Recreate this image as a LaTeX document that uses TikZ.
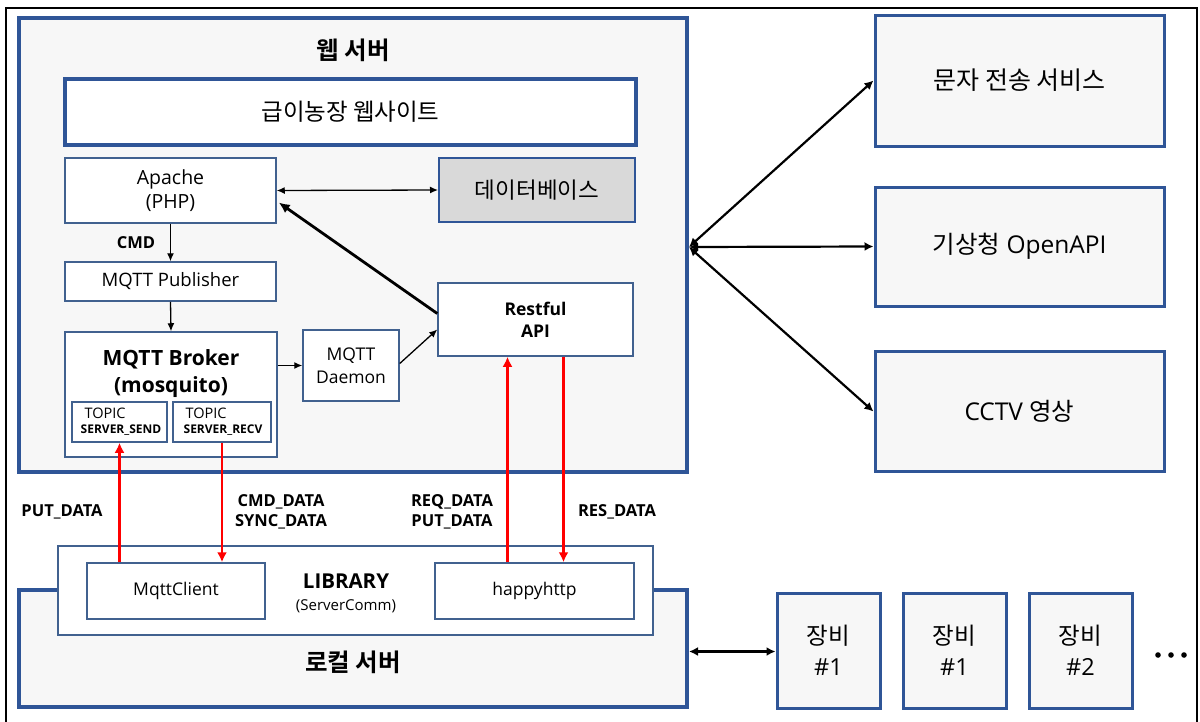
\documentclass[tikz,border=0pt]{standalone}
\usepackage{fontspec}
\setmainfont{Open Sans}
\newfontfamily\ko{Noto Sans CJK KR}[BoldFont={Noto Sans CJK KR Bold}]
\usetikzlibrary{arrows.meta,calc}
\definecolor{frameblue}{HTML}{2F5597}
\definecolor{boxblue}{HTML}{41618F}
\definecolor{panel}{HTML}{F7F7F7}
\definecolor{dbgray}{HTML}{D9D9D9}
\definecolor{linkred}{HTML}{FF0000}
\tikzset{
  sz/.style 2 args={minimum width=#1pt, minimum height=#2pt},
  fs/.style 2 args={font=\fontsize{#1pt}{#2pt}\selectfont},
  fsb/.style 2 args={font=\fontsize{#1pt}{#2pt}\selectfont\bfseries},
  panelbox/.style={draw=frameblue, line width=4pt, fill=panel, inner sep=0pt},
  sitebox/.style={draw=frameblue, line width=4pt, fill=white, inner sep=0pt},
  thinbox/.style={draw=boxblue, line width=1.5pt, fill=white, inner sep=0pt, align=center},
  extbox/.style={draw=frameblue, line width=3pt, fill=panel, inner sep=0pt, align=center},
  lbl/.style={inner sep=0pt, align=center},
  arr/.style={line width=1.3pt, -{Latex[length=8pt,width=7pt]}},
  arrboth/.style={line width=1.3pt, {Latex[length=8pt,width=7pt]}-{Latex[length=8pt,width=7pt]}},
  arrwide/.style={line width=2.2pt, {Latex[length=9pt,width=9pt]}-{Latex[length=9pt,width=9pt]}},
  arrthick/.style={line width=2.8pt, -{Latex[length=11pt,width=10pt]}},
  redarr/.style={draw=linkred, line width=2.5pt, -{Latex[length=10pt,width=10pt]}},
}
\begin{document}
\begin{tikzpicture}[x=1pt,y=-1pt]
  \useasboundingbox (0,0) rectangle (1200,721);
  \fill[white] (0,0) rectangle (1200,721);
  % outer frame (open at the bottom)
  \draw[black, line width=2.5pt] (6,730) -- (6,8) -- (1197,8) -- (1197,730);

  % ---------- web server ----------
  \node[panelbox, sz={668}{454}] (web) at (353,245) {};
  \node[lbl, fsb={24.5}{28}] (webt) at (353,50) {\ko\bfseries 웹 서버};
  \node[sitebox, sz={571}{66}, fs={23.5}{26}] (site) at (350.5,111.5) {\ko 급이농장 웹사이트};
  \node[thinbox, sz={211}{65}, fs={19.5}{24}] (apache) at (170.5,190.5) {Apache\\(PHP)};
  \node[thinbox, draw=frameblue, line width=2pt, fill=dbgray, sz={196}{64}, fs={22.5}{26}] (db) at (537,190) {\ko 데이터베이스};
  \node[thinbox, sz={211}{39}, fs={18.5}{22}] (pub) at (170.5,281.5) {MQTT Publisher};
  \node[thinbox, sz={212}{125}] (broker) at (171,394.5) {};
  \node[lbl, fsb={21}{27}] (brokert) at (171,373.5) {MQTT Broker\\(mosquito)};
  \node[thinbox, sz={95}{40}] (tsend) at (119.5,422) {};
  \node[lbl, fs={14.5}{17}] (tsendt) at (105,413) {TOPIC};
  \node[lbl, fsb={12}{14}] (tsendn) at (121,430.5) {SERVER\_SEND};
  \node[thinbox, sz={98}{40}] (trecv) at (222,422) {};
  \node[lbl, fs={14.5}{17}] (trecvt) at (206,413) {TOPIC};
  \node[lbl, fsb={12}{14}] (trecvn) at (223,430.5) {SERVER\_RECV};
  \node[thinbox, sz={96}{71}, fs={17.5}{23}] (daemon) at (351,365.5) {MQTT\\Daemon};
  \node[thinbox, sz={195}{73}, fsb={17.5}{22}] (rest) at (535.5,319.5) {Restful\\API};

  \draw[arrboth] (apache.east) -- (db.west);
  \draw[arr] (apache.south) -- (pub.north);
  \node[lbl, fsb={16.5}{18}] (cmdl) at (136,243) {CMD};
  \draw[arr] (pub.south) -- (broker.north);
  \draw[arr] (broker.east |- daemon.west) -- (daemon.west);
  \draw[arr] ($(daemon.east)+(0,-2)$) -- ($(rest.west)+(0,10)$);
  \draw[arrthick] ($(rest.west)+(0,-6)$) -- ($(apache.east)+(2,12)$);

  % ---------- local server ----------
  \node[panelbox, sz={668}{117}] (local) at (353,648.5) {};
  \node[lbl, fsb={24.5}{28}] (localt) at (353,662) {\ko\bfseries 로컬 서버};
  \node[thinbox, sz={595}{89}] (lib) at (355.5,590.5) {};
  \node[thinbox, sz={178}{56}, fs={17.5}{20}] (mqttc) at (176,591) {MqttClient};
  \node[thinbox, sz={199}{56}, fs={17.5}{20}] (happy) at (534.5,591) {happyhttp};
  \node[lbl, fsb={20.5}{24}] (libt) at (346,581) {LIBRARY};
  \node[lbl, fs={15}{18}] (libs) at (346,606) {(ServerComm)};

  % ---------- data links ----------
  \draw[redarr] (tsend.south |- mqttc.north) -- (tsend.south);
  \draw[redarr] (trecv.south) -- (trecv.south |- mqttc.north);
  \coordinate (reqx) at ($(happy.north)+(-27,0)$);
  \coordinate (resx) at ($(happy.north)+(29,0)$);
  \draw[redarr] (reqx) -- (reqx |- rest.south);
  \draw[redarr] (resx |- rest.south) -- (resx);
  \node[lbl, fsb={16.5}{20}] (putl) at (62,512) {PUT\_DATA};
  \node[lbl, fsb={16.5}{20}] (cmdd) at (281,511.5) {CMD\_DATA\\SYNC\_DATA};
  \node[lbl, fsb={16.5}{20}] (reqd) at (452,511.5) {REQ\_DATA\\PUT\_DATA};
  \node[lbl, fsb={16.5}{20}] (resd) at (617,512) {RES\_DATA};

  % ---------- external services ----------
  \node[extbox, sz={289}{131}, fs={25}{28}] (sms) at (1019.5,80.5) {\ko 문자 전송 서비스};
  \node[extbox, sz={289}{119}, fs={24.5}{28}] (kma) at (1019.5,246.5) {{\ko 기상청} OpenAPI};
  \node[extbox, sz={289}{120}, fs={24.5}{28}] (cctv) at (1019.5,411.5) {CCTV {\ko 영상}};
  \coordinate (hub) at (689,247);
  \draw[arrwide] (hub) -- (sms.west);
  \draw[arrwide] (hub) -- (kma.west);
  \draw[arrwide] (hub) -- (cctv.west);

  % ---------- devices ----------
  \node[extbox, sz={103}{115}, fs={23.5}{31}] (dev1) at (828.5,650.5) {{\ko 장비}\\\#1};
  \node[extbox, sz={103}{115}, fs={23.5}{31}] (dev2) at (954.5,650.5) {{\ko 장비}\\\#1};
  \node[extbox, sz={103}{115}, fs={23.5}{31}] (dev3) at (1080.5,650.5) {{\ko 장비}\\\#2};
  \draw[arrwide] ($(local.east)+(0,3)$) -- (dev1.west |- 0,651.5);
  \foreach \dx in {1158,1171,1184} \fill (\dx,655) circle (2.8pt);
\end{tikzpicture}
\end{document}
